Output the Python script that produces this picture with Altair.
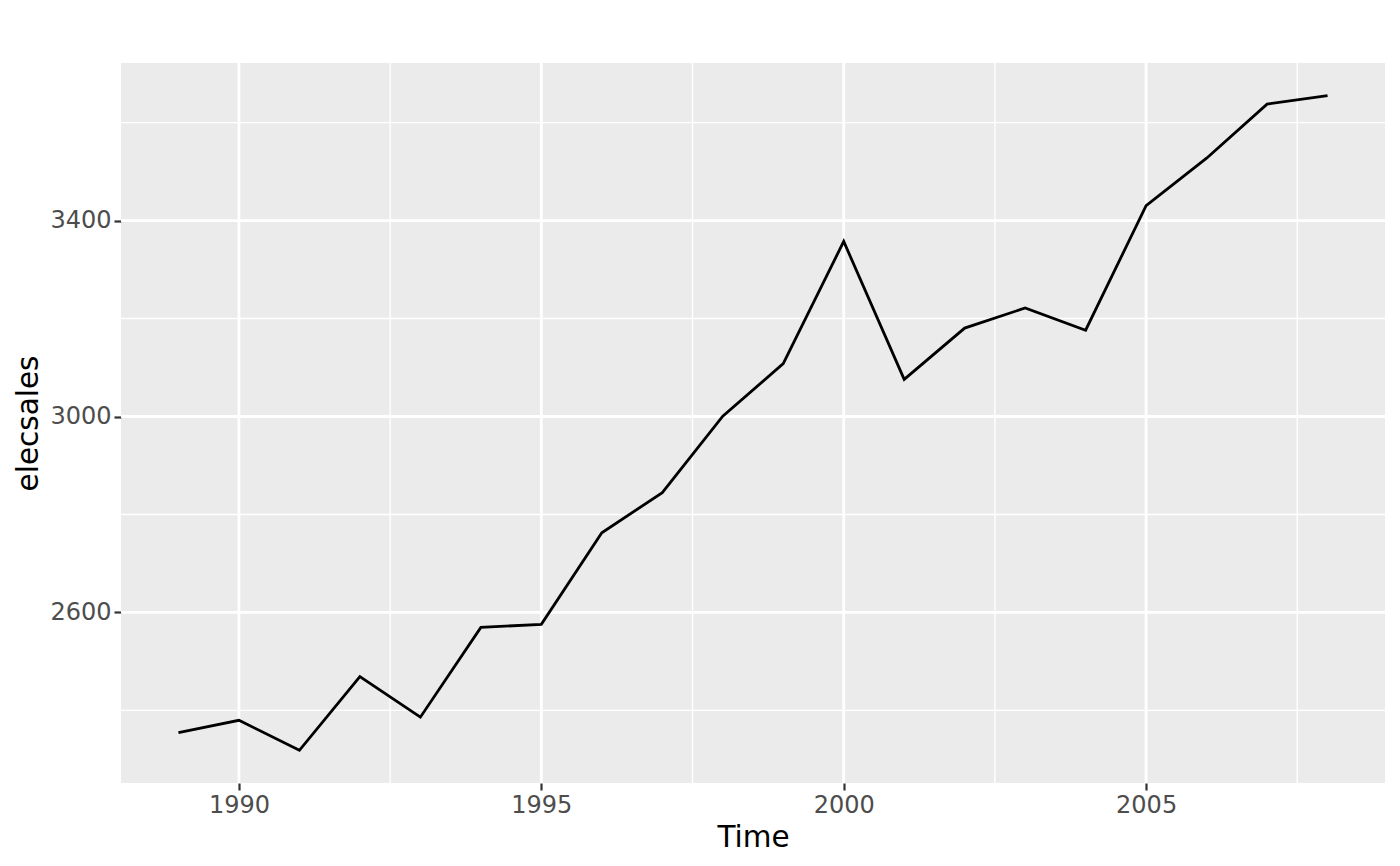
import altair as alt
import pandas as pd

years = list(range(1989, 2009))
sales = [2354.34, 2379.71, 2318.52, 2468.99, 2386.09, 2569.47, 2575.72, 2762.72,
         2844.50, 3000.70, 3108.10, 3357.50, 3075.70, 3180.60, 3221.60, 3176.20,
         3430.60, 3527.48, 3637.89, 3655.00]

x_major = [1990, 1995, 2000, 2005]
x_minor = [1992.5, 1997.5, 2002.5, 2007.5]
y_major = [2600, 3000, 3400]
y_minor = [2400, 2800, 3200, 3600]

df = pd.DataFrame({"Time": years, "elecsales": sales})

xscale = alt.Scale(domain=[1988.05, 2008.95], nice=False, zero=False)
yscale = alt.Scale(domain=[2251.7, 3721.8], nice=False, zero=False)
xaxis = alt.Axis(values=x_major, format="d", title="Time", grid=False)
yaxis = alt.Axis(values=y_major, format="d", title="elecsales", grid=False)

xminor = alt.Chart(pd.DataFrame({"v": x_minor})).mark_rule(color="white", strokeWidth=1.4).encode(
    x=alt.X("v:Q", scale=xscale, axis=xaxis))
yminor = alt.Chart(pd.DataFrame({"v": y_minor})).mark_rule(color="white", strokeWidth=1.4).encode(
    y=alt.Y("v:Q", scale=yscale, axis=yaxis))
xmajor = alt.Chart(pd.DataFrame({"v": x_major})).mark_rule(color="white", strokeWidth=2.8).encode(
    x=alt.X("v:Q", scale=xscale, axis=xaxis))
ymajor = alt.Chart(pd.DataFrame({"v": y_major})).mark_rule(color="white", strokeWidth=2.8).encode(
    y=alt.Y("v:Q", scale=yscale, axis=yaxis))

line = alt.Chart(df).mark_line(color="black", strokeWidth=2.8, strokeCap="butt").encode(
    x=alt.X("Time:Q", scale=xscale, axis=xaxis),
    y=alt.Y("elecsales:Q", scale=yscale, axis=yaxis),
)

chart = alt.layer(xminor, yminor, xmajor, ymajor, line).properties(
    width=1264, height=720,
    autosize=alt.AutoSizeParams(type="none"),
    padding={"left": 113, "top": 55, "right": 7, "bottom": 75},
).configure_view(
    fill="#EBEBEB", stroke=None
).configure_axis(
    domain=False,
    labelFont="DejaVu Sans", labelFontSize=24, labelColor="#4D4D4D",
    tickColor="#333333", tickSize=7, tickWidth=2.2,
    labelPadding=3,
    titleFont="DejaVu Sans", titleFontSize=29.5, titleColor="black", titleFontWeight="normal",
).configure_axisX(titlePadding=6).configure_axisY(titlePadding=6)

chart.save("out.html", embed_options={"renderer": "svg", "actions": False})
